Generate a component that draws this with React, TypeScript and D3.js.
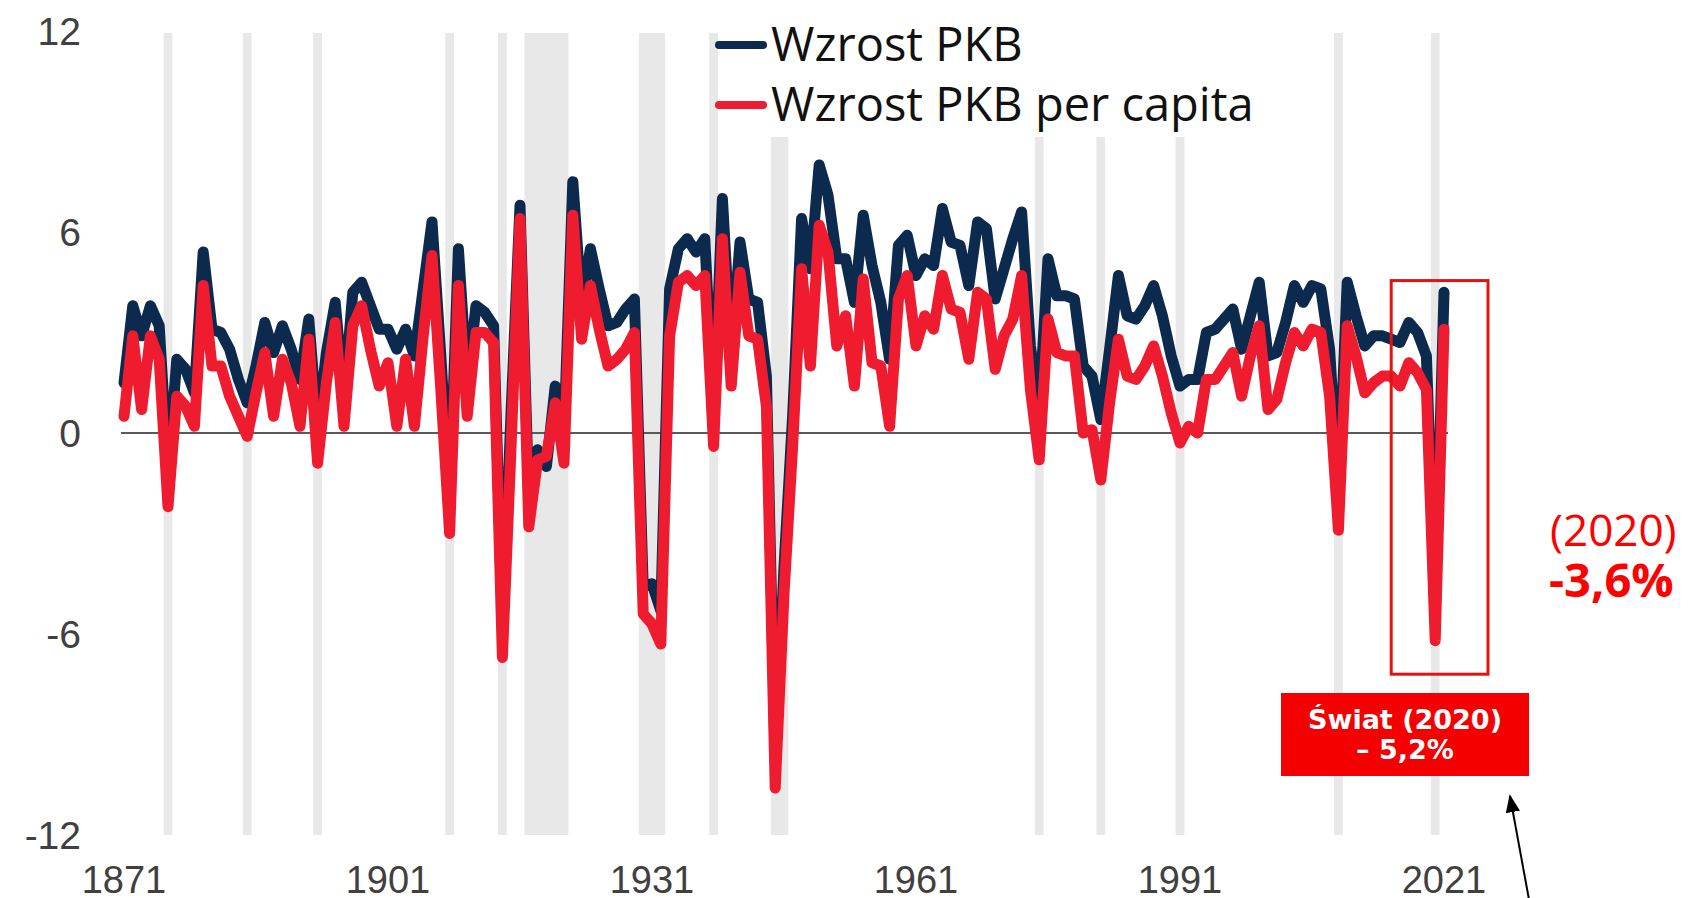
import React, { useRef, useEffect } from "react";
import * as d3 from "d3";

// world GDP growth vs GDP per capita growth, 1871-2021 (%)
const years = d3.range(1871, 2022);

const gdpGrowth = [
  1.5, 3.8, 2.9, 3.8, 3.2, -1.2, 2.2, 1.9, 1.2, 5.4,
  3.1, 3.0, 2.5, 1.6, 0.9, 2.0, 3.3, 2.4, 3.2, 2.5,
  1.6, 3.4, 0.1, 2.4, 3.9, 1.0, 4.2, 4.5, 3.8, 3.1,
  3.1, 2.5, 3.1, 2.3, 4.3, 6.3, 2.3, -2.0, 5.5, 1.4,
  3.8, 3.6, 3.2, -5.8, 0.7, 6.8, -2.0, -0.5, -1.0, 1.4,
  0.0, 7.5, 3.8, 5.5, 4.3, 3.2, 3.3, 3.7, 4.0, -4.6,
  -4.5, -5.3, 4.3, 5.5, 5.8, 5.4, 5.8, 0.5, 7.0, 2.3,
  5.7, 4.0, 3.9, 1.7, -9.8, -4.0, 0.6, 6.4, 4.9, 8.0,
  7.1, 5.2, 5.2, 3.9, 6.5, 5.0, 3.9, 2.2, 5.6, 5.9,
  4.7, 5.2, 5.0, 6.7, 5.7, 5.6, 4.4, 6.3, 6.1, 4.0,
  4.9, 5.8, 6.6, 2.6, 0.7, 5.2, 4.1, 4.1, 4.0, 2.0,
  1.7, 0.4, 2.5, 4.7, 3.5, 3.4, 3.8, 4.4, 3.5, 2.3,
  1.4, 1.6, 1.6, 3.0, 3.1, 3.4, 3.7, 2.5, 3.5, 4.5,
  2.3, 2.4, 3.3, 4.4, 3.9, 4.4, 4.3, 2.5, -1.8, 4.5,
  3.5, 2.6, 2.9, 2.9, 2.8, 2.7, 3.3, 3.0, 2.3, -5.2,
  4.2
];

const gdpPerCapitaGrowth = [
  0.5, 2.9, 0.7, 2.9, 2.2, -2.2, 1.1, 0.8, 0.2, 4.4,
  2.0, 2.0, 1.1, 0.5, -0.1, 1.2, 2.4, 0.5, 2.2, 1.5,
  0.2, 2.8, -0.9, 1.5, 3.3, 0.2, 3.2, 3.8, 2.5, 1.4,
  2.1, 0.2, 2.2, 0.2, 2.9, 5.3, 1.3, -3.0, 4.4, 0.5,
  3.0, 3.0, 2.7, -6.7, -0.3, 6.4, -2.8, -0.8, -0.7, 0.9,
  -0.9, 6.5, 2.8, 4.4, 3.1, 2.0, 2.2, 2.5, 3.0, -5.4,
  -5.7, -6.3, 2.9, 4.5, 4.7, 4.4, 4.7, -0.4, 5.8, 1.4,
  4.8, 2.9, 2.8, 0.8, -10.6, -4.8, -0.3, 4.9, 2.0, 6.2,
  5.4, 2.6, 3.5, 1.4, 4.6, 2.1, 2.0, 0.2, 4.0, 4.7,
  2.6, 3.5, 3.1, 4.7, 3.7, 3.6, 2.2, 4.2, 4.0, 1.9,
  2.9, 3.4, 4.7, 1.3, -0.8, 3.4, 2.4, 2.3, 2.3, 0.0,
  0.1, -1.4, 0.9, 2.8, 1.7, 1.6, 2.0, 2.6, 1.7, 0.6,
  -0.3, 0.2, 0.0, 1.6, 1.6, 2.0, 2.4, 1.1, 2.3, 3.2,
  0.7, 1.0, 2.1, 3.0, 2.6, 3.1, 3.0, 1.1, -2.9, 3.2,
  2.3, 1.2, 1.5, 1.7, 1.7, 1.4, 2.1, 1.8, 1.3, -6.2,
  3.1
];

// global recessions (shaded)
const recessionStart = [1876, 1885, 1893, 1908, 1914, 1917, 1930, 1938, 1945, 1975, 1982, 1991, 2009, 2020];
const recessionEnd = [1876, 1885, 1893, 1908, 1914, 1921, 1932, 1938, 1946, 1975, 1982, 1991, 2009, 2020];

const yTicks = [-12, -6, 0, 6, 12];
const xTicks = [1871, 1901, 1931, 1961, 1991, 2021];

const seriesNames = ["Wzrost PKB", "Wzrost PKB per capita"];
const seriesColors = ["#0b2a4e", "#ee1c2e"];

const App = () => {
  const chartRef = useRef<SVGSVGElement>(null);

  useEffect(() => {
    const width = 1691;
    const height = 898;

    const svg = d3
      .select(chartRef.current)
      .attr("viewBox", `0 0 ${width} ${height}`);

    svg.selectAll("*").remove();

    svg.append("rect").attr("width", width).attr("height", height).attr("fill", "#fff");

    const x = d3.scaleLinear().domain([1871, 2021]).range([124, 1444]);
    const y = d3.scaleLinear().domain([-12, 12]).range([835, 31]);

    // recession bands
    svg
      .append("g")
      .selectAll("rect")
      .data(recessionStart.map((s, i) => ({ s, e: recessionEnd[i] })))
      .enter()
      .append("rect")
      .attr("x", (d) => x(d.s - 0.5))
      .attr("width", (d) => x(d.e + 0.5) - x(d.s - 0.5))
      .attr("y", y(12) + 2)
      .attr("height", y(-12) - y(12) - 2)
      .attr("fill", "#e8e8e8");

    // zero line
    svg
      .append("line")
      .attr("x1", x(1871) - 3)
      .attr("x2", x(2021) + 4)
      .attr("y1", y(0))
      .attr("y2", y(0))
      .attr("stroke", "#5a5a5a")
      .attr("stroke-width", 2);

    // y labels
    svg
      .append("g")
      .selectAll("text")
      .data(yTicks)
      .enter()
      .append("text")
      .attr("x", 81)
      .attr("y", (d) => y(d))
      .attr("dy", "0.36em")
      .attr("text-anchor", "end")
      .attr("font-family", "'Liberation Sans', Arial, sans-serif")
      .attr("font-size", 39)
      .attr("fill", "#404040")
      .text((d) => d);

    // x labels
    svg
      .append("g")
      .selectAll("text")
      .data(xTicks)
      .enter()
      .append("text")
      .attr("x", (d) => x(d))
      .attr("y", 893)
      .attr("text-anchor", "middle")
      .attr("font-family", "'Liberation Sans', Arial, sans-serif")
      .attr("font-size", 38)
      .attr("fill", "#404040")
      .text((d) => d);

    // legend background covers the bands
    svg
      .append("rect")
      .attr("x", 719)
      .attr("y", 0)
      .attr("width", 540)
      .attr("height", 137)
      .attr("fill", "#fff");

    const line = d3
      .line<number>()
      .x((d, i) => x(years[i]))
      .y((d) => y(d));

    [gdpGrowth, gdpPerCapitaGrowth].forEach((series, k) => {
      svg
        .append("path")
        .datum(series)
        .attr("d", line)
        .attr("fill", "none")
        .attr("stroke", seriesColors[k])
        .attr("stroke-width", 11)
        .attr("stroke-linejoin", "round")
        .attr("stroke-linecap", "round");
    });

    // legend
    const legend = svg.append("g").attr("transform", "translate(719, 0)");
    seriesNames.forEach((name, i) => {
      const row = legend.append("g").attr("transform", `translate(0, ${45 + i * 60})`);
      row
        .append("line")
        .attr("x1", 0)
        .attr("x2", 44)
        .attr("stroke", seriesColors[i])
        .attr("stroke-width", 8)
        .attr("stroke-linecap", "round");
      row
        .append("text")
        .attr("x", 52)
        .attr("y", 16)
        .attr("font-family", "'Open Sans', 'Noto Sans', sans-serif")
        .attr("font-size", 47)
        .attr("fill", "#111")
        .text(name);
    });

    // highlight box around 2020
    svg
      .append("rect")
      .attr("x", x(2015))
      .attr("y", y(4.55))
      .attr("width", x(2026) - x(2015))
      .attr("height", y(-7.2) - y(4.55))
      .attr("fill", "none")
      .attr("stroke", "#e31212")
      .attr("stroke-width", 3);

    // world label
    svg
      .append("rect")
      .attr("x", 1281)
      .attr("y", 693)
      .attr("width", 248)
      .attr("height", 83)
      .attr("fill", "#f50000");

    const label = svg
      .append("text")
      .attr("text-anchor", "middle")
      .attr("font-family", "'DejaVu Sans', Verdana, sans-serif")
      .attr("font-weight", "bold")
      .attr("font-size", 27)
      .attr("fill", "#fff");
    label.append("tspan").attr("x", 1405).attr("y", 729).text("Świat (2020)");
    label.append("tspan").attr("x", 1405).attr("y", 759).text("– 5,2%");

    // Polish figure at right
    svg
      .append("text")
      .attr("x", 1550)
      .attr("y", 546)
      .attr("font-family", "'Open Sans', 'Noto Sans', sans-serif")
      .attr("font-size", 44)
      .attr("fill", "#ff0000")
      .text("(2020)");
    svg
      .append("text")
      .attr("x", 1549)
      .attr("y", 597)
      .attr("font-family", "'Open Sans', 'Noto Sans', sans-serif")
      .attr("font-weight", "bold")
      .attr("font-size", 47)
      .attr("fill", "#ff0000")
      .text("-3,6%");

    // arrow
    svg
      .append("defs")
      .append("marker")
      .attr("id", "arrowhead")
      .attr("viewBox", "0 0 10 10")
      .attr("refX", 9)
      .attr("refY", 5)
      .attr("markerWidth", 9)
      .attr("markerHeight", 9)
      .attr("orient", "auto")
      .append("path")
      .attr("d", "M0,1 L10,5 L0,9 z")
      .attr("fill", "#000");

    svg
      .append("line")
      .attr("x1", 1530)
      .attr("y1", 905)
      .attr("x2", 1510)
      .attr("y2", 796)
      .attr("stroke", "#000")
      .attr("stroke-width", 2)
      .attr("marker-end", "url(#arrowhead)");
  }, []);

  return (
    <svg
      ref={chartRef}
      width={1691}
      height={898}
      style={{ position: "absolute", left: 0, top: 0, display: "block" }}
    ></svg>
  );
};

export default App;
